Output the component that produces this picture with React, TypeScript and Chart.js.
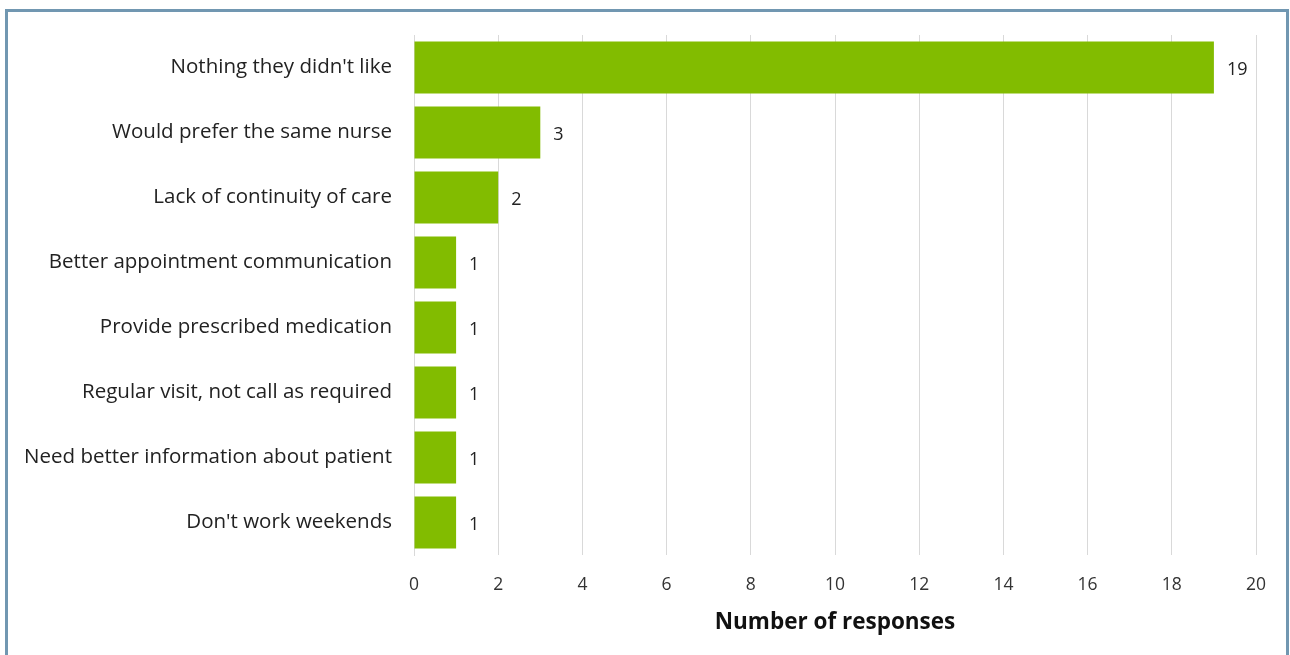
import React, { useEffect, useRef } from "react";
import { Chart, registerables } from "chart.js";

Chart.register(...registerables);

const categories = [
  "Nothing they didn't like",
  "Would prefer the same nurse",
  "Lack of continuity of care",
  "Better appointment communication",
  "Provide prescribed medication",
  "Regular visit, not call as required",
  "Need better information about patient",
  "Don't work weekends",
];
const responses = [19, 3, 2, 1, 1, 1, 1, 1];
const xTicks = [0, 2, 4, 6, 8, 10, 12, 14, 16, 18, 20];
const axisTitle = "Number of responses";

const FONT = "'Open Sans', sans-serif";

const valueLabels = {
  id: "valueLabels",
  afterDatasetsDraw(chart: any) {
    const ctx = chart.ctx;
    const meta = chart.getDatasetMeta(0);
    ctx.save();
    ctx.font = `18px ${FONT}`;
    ctx.fillStyle = "#222";
    ctx.textAlign = "left";
    ctx.textBaseline = "middle";
    meta.data.forEach((bar: any, i: number) => {
      ctx.fillText(String(responses[i]), bar.x + 13, bar.y + 2);
    });
    ctx.restore();
  },
};

export default function App() {
  const ref = useRef<HTMLCanvasElement>(null);
  useEffect(() => {
    if (!ref.current) return;
    const chart = new Chart(ref.current, {
      type: "bar",
      data: {
        labels: categories,
        datasets: [
          {
            data: responses,
            backgroundColor: "#82bc00",
            barPercentage: 0.8,
            categoryPercentage: 1,
          },
        ],
      },
      options: {
        indexAxis: "y",
        animation: false,
        responsive: false,
        maintainAspectRatio: false,
        layout: { padding: { top: 35, right: 34, left: 0, bottom: 0 } },
        plugins: { legend: { display: false }, tooltip: { enabled: false } },
        scales: {
          x: {
            min: 0,
            max: 20,
            afterFit: (s: any) => {
              s.height = 100;
            },
            afterBuildTicks: (s: any) => {
              s.ticks = xTicks.map((v) => ({ value: v }));
            },
            grid: { color: "#d9d9d9", drawTicks: false, lineWidth: 1 },
            border: { display: false },
            ticks: {
              padding: 20,
              color: "#333",
              font: { family: FONT, size: 17.5 },
            },
            title: {
              display: true,
              text: axisTitle,
              color: "#111",
              font: { family: FONT, size: 22.5, weight: "bold" },
              padding: { top: 0, bottom: 19 },
            },
          },
          y: {
            afterFit: (s: any) => {
              s.width = 414;
            },
            grid: { display: false, drawTicks: false },
            border: { display: true, color: "#d9d9d9" },
            ticks: {
              padding: 22,
              color: "#222",
              font: { family: FONT, size: 20.5 },
            },
          },
        },
      },
      plugins: [valueLabels],
    });
    return () => chart.destroy();
  }, []);

  return (
    <div style={{ position: "fixed", left: 0, top: 0, width: 1290, height: 655, background: "#fff", overflow: "hidden" }}>
      <div
        style={{
          position: "absolute",
          left: 5,
          top: 9,
          width: 1278,
          height: 700,
          border: "3px solid #7197b1",
          borderBottom: "none",
        }}
      />
      <canvas ref={ref} width={1290} height={655} style={{ position: "absolute", left: 0, top: 0 }} />
    </div>
  );
}
